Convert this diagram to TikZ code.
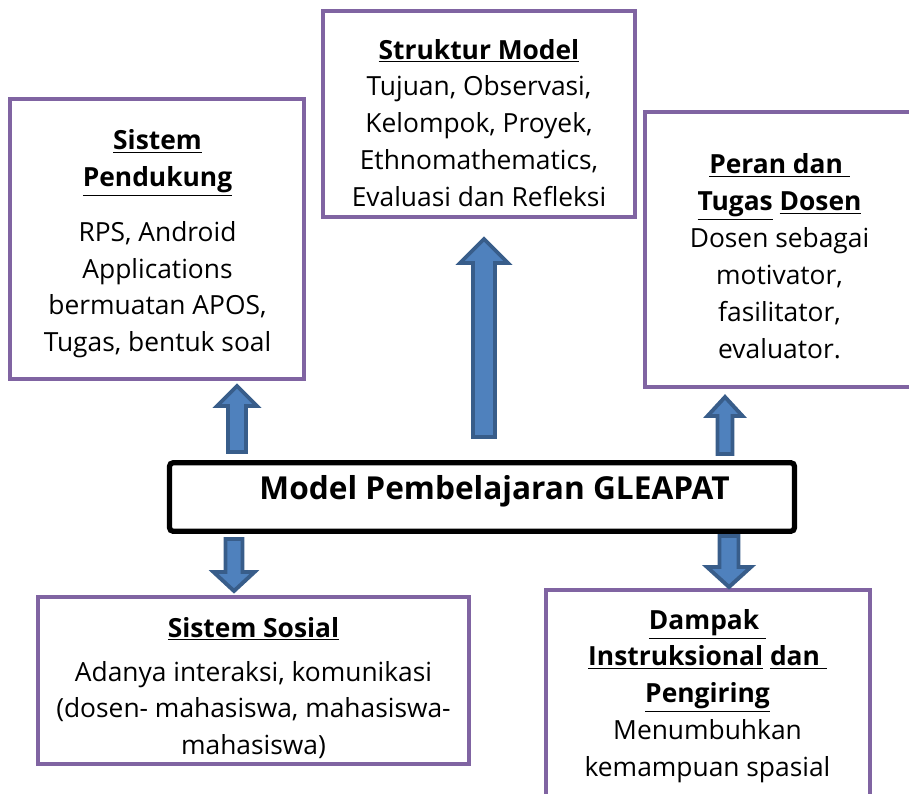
\documentclass[tikz,border=0pt]{standalone}
\usepackage{fontspec}
\setmainfont{Open Sans}
\usetikzlibrary{positioning}
\definecolor{ungu}{RGB}{128,100,162}
\definecolor{birupanah}{RGB}{79,129,189}
\definecolor{birutepi}{RGB}{56,93,138}
\newcommand{\garis}[1]{\underline{\textbf{#1}}}
\newcommand{\panahblok}[6]{%
\draw[panah] ({#1-#5},#2) -- ({#1-#5},#3) -- ({#1-#6},#3) -- (#1,#4) -- ({#1+#6},#3) -- ({#1+#5},#3) -- ({#1+#5},#2) -- cycle;}

\begin{document}
\begin{tikzpicture}[x=0.02cm,y=-0.02cm,
  kotak/.style={draw=ungu,line width=2pt},
  inti/.style={draw=black,line width=3pt,rounded corners=2pt},
  isi/.style={align=center,font=\fontsize{15}{21}\selectfont,inner sep=0pt},
  judulutama/.style={font=\fontsize{18}{20}\selectfont\bfseries,inner sep=0pt},
  panah/.style={fill=birupanah,draw=birutepi,line width=2.2pt,line join=miter}]
\useasboundingbox (0,0) rectangle (909,794);
\clip (0,0) rectangle (909,794);
% kotak
\node [kotak,minimum width=5.88cm,minimum height=5.6cm] (pendukung) at (157,239) {};
\node [kotak,minimum width=6.24cm,minimum height=4.12cm] (struktur) at (479,114) {};
\node [kotak,minimum width=5.6cm,minimum height=5.5cm] (peran) at (785,249.5) {};
\node [inti,minimum width=12.5cm,minimum height=1.37cm] (model) at (482,497) {};
\node [kotak,minimum width=8.62cm,minimum height=3.34cm] (sosial) at (253.5,680.5) {};
\node [kotak,minimum width=6.48cm,minimum height=4.5cm] (dampak) at (708,702.5) {};
% isi
\node [isi] (tpendukung) at (157.5,244) {\garis{Sistem}\\ \garis{Pendukung}\\[10pt] RPS, Android\\ Applications\\ bermuatan APOS,\\ Tugas, bentuk soal};
\node [isi] (tstruktur) at (479,123) {\garis{Struktur Model}\\ Tujuan, Observasi,\\ Kelompok, Proyek,\\ Ethnomathematics,\\ Evaluasi dan Refleksi};
\node [isi] (tperan) at (779.5,256) {\garis{Peran dan }\\ \garis{Tugas} \garis{Dosen}\\ Dosen sebagai\\ motivator,\\ fasilitator,\\ evaluator.};
\node [judulutama] (tmodel) at (494.5,491) {Model Pembelajaran GLEAPAT};
\node [isi] (tsosial) at (253.5,688) {\garis{Sistem Sosial}\\[4pt] Adanya interaksi, komunikasi\\ (dosen- mahasiswa, mahasiswa-\\ mahasiswa)};
\node [isi] (tdampak) at (707.5,696) {\garis{Dampak }\\ \garis{Instruksional}\ \garis{dan }\\ \garis{Pengiring}\\ Menumbuhkan\\ kemampuan spasial};
% panah
\panahblok{237}{452}{406}{386}{9}{20}
\panahblok{484}{437}{263}{239}{11}{24}
\panahblok{725}{454}{416}{397}{7.5}{17.5}
\panahblok{234}{539}{572}{591}{8.5}{20.5}
\panahblok{729}{536}{567}{587}{9.5}{22}
\end{tikzpicture}
\end{document}
